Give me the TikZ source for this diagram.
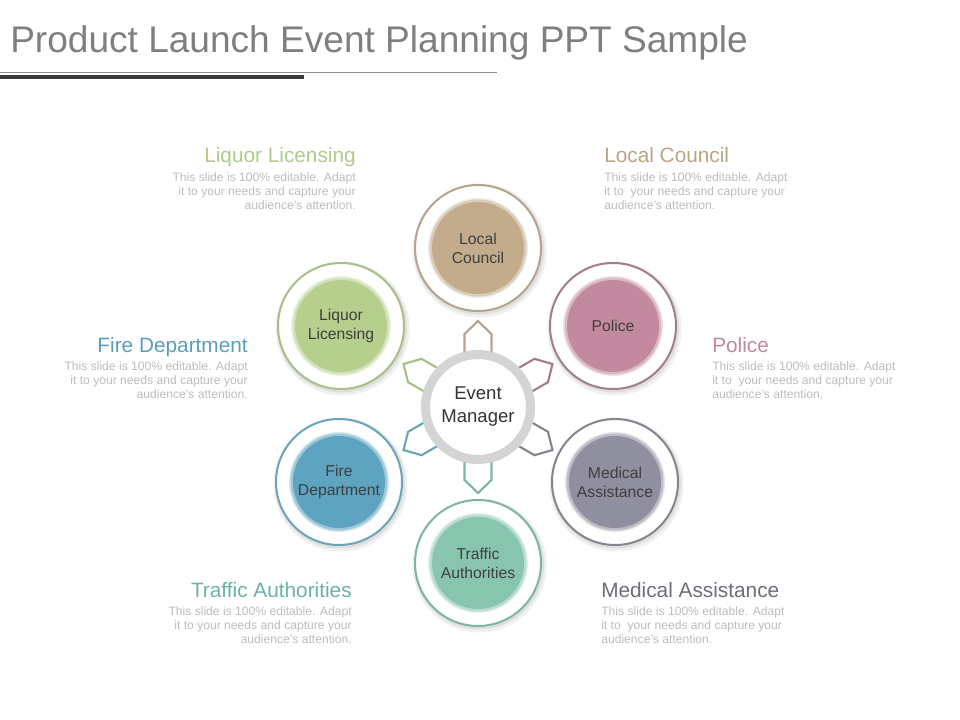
\documentclass[tikz,border=0pt]{standalone}
\usepackage{fontspec}
\setmainfont{Liberation Sans}
\usetikzlibrary{calc}
\definecolor{titlegray}{HTML}{7F7F7F}
\definecolor{linegray}{HTML}{8C8C8C}
\definecolor{linedark}{HTML}{3A3A3A}
\definecolor{bodygray}{HTML}{BDBDBD}
\definecolor{labelgray}{HTML}{3F3F3F}
\definecolor{hubgray}{HTML}{D4D4D4}
\definecolor{lcfill}{HTML}{C2AC8C}\definecolor{lcring}{HTML}{B4A48C}\definecolor{lchead}{HTML}{B9A586}
\definecolor{polfill}{HTML}{C38A9F}\definecolor{polring}{HTML}{A47D8D}\definecolor{polhead}{HTML}{C08A9E}
\definecolor{medfill}{HTML}{908FA0}\definecolor{medring}{HTML}{85848F}\definecolor{medhead}{HTML}{6E6E78}
\definecolor{trafill}{HTML}{88C5AF}\definecolor{traring}{HTML}{7FB4A8}\definecolor{trahead}{HTML}{6BB2A6}
\definecolor{firefill}{HTML}{5EA3C0}\definecolor{firering}{HTML}{6AA5B8}\definecolor{firehead}{HTML}{5B9EBB}
\definecolor{liqfill}{HTML}{B6CF8D}\definecolor{liqring}{HTML}{A9BF86}\definecolor{liqhead}{HTML}{B3C98C}
\tikzset{
  headtext/.style={inner sep=0pt, font=\fontsize{15.6}{18}\selectfont},
  bodytext/.style={inner sep=0pt, text=bodygray, font=\fontsize{9.1}{10.5}\selectfont},
  satlabel/.style={circle, inner sep=0pt, minimum size=69pt, align=center, text=labelgray, font=\fontsize{11.8}{14.25}\selectfont},
}
\begin{document}
\begin{tikzpicture}[x=0.75pt,y=-0.75pt]
\useasboundingbox (0,0) rectangle (960,720);
\fill[white] (0,0) rectangle (960,720);
% title
\node[anchor=base west, inner sep=0pt, text=titlegray, font=\fontsize{27.8}{30}\selectfont] (title) at (10,53) {Product Launch Event Planning PPT Sample};
\fill[linegray] (0,71.8) rectangle (497,73.4);
\fill[linedark] (0,75.5) rectangle (304,79.5);
% satellites
\foreach \nm/\x/\y/\fc/\rc/\lab in {
  lc/478/248/lcfill/lcring/{Local\\Council},
  pol/613/326/polfill/polring/{Police},
  med/615/482/medfill/medring/{Medical\\Assistance},
  tra/478/563/trafill/traring/{Traffic\\Authorities},
  fire/339/482/firefill/firering/{Fire\\Department},
  liq/341/326/liqfill/liqring/{Liquor\\Licensing}}{
  \fill[black, opacity=0.06] (\x+1.5,\y+2.5) circle (67);
  \fill[black, opacity=0.07] (\x+1,\y+1.5) circle (65);
  \filldraw[fill=white, draw=\rc, line width=1.5pt] (\x,\y) circle (63);
  \fill[\fc, opacity=0.25] (\x,\y) circle (50);
  \fill[\fc, opacity=0.45] (\x,\y) circle (48.5);
  \node[satlabel, fill=\fc] (\nm) at (\x,\y) {\lab};
}
% pentagons
\coordinate (hc) at (478,407);
\foreach \a/\rc in {-90/lcring, -30/polring, 30/medring, 90/traring, 150/firering, 210/liqring}{
  \draw[\rc, line width=1.6pt, line join=miter]
    ($(hc)+(\a:55)+(\a+90:13.5)$) -- ($(hc)+(\a:73)+(\a+90:13.5)$) -- ($(hc)+(\a:86)$)
    -- ($(hc)+(\a:73)+(\a-90:13.5)$) -- ($(hc)+(\a:55)+(\a-90:13.5)$);
}
% hub
\node[circle, draw=hubgray, line width=6.75pt, fill=white, minimum size=78.75pt, inner sep=0pt, align=center, text=black!80, font=\fontsize{13.9}{17.25}\selectfont] (hub) at (hc) {Event\\Manager};
% texts left
\node[headtext, anchor=base east, text=liqhead] (liqh) at (356,163) {Liquor Licensing};
\node[bodytext, anchor=base east, align=right] (liqb) at (356,209.5) {This slide is 100\% editable. Adapt\\it to your needs and capture your\\audience’s attention.};
\node[headtext, anchor=base east, text=firehead] (fireh) at (248,352) {Fire Department};
\node[bodytext, anchor=base east, align=right] (fireb) at (248,398.5) {This slide is 100\% editable. Adapt\\it to your needs and capture your\\audience’s attention.};
\node[headtext, anchor=base east, text=trahead] (trah) at (352,597) {Traffic Authorities};
\node[bodytext, anchor=base east, align=right] (trab) at (352,643.5) {This slide is 100\% editable. Adapt\\it to your needs and capture your\\audience’s attention.};
% texts right
\node[headtext, anchor=base west, text=lchead] (lch) at (604,163) {Local Council};
\node[bodytext, anchor=base west, align=left] (lcb) at (604,209.5) {This slide is 100\% editable. Adapt\\it to\ \ your needs and capture your\\audience’s attention.};
\node[headtext, anchor=base west, text=polhead] (polh) at (712,352) {Police};
\node[bodytext, anchor=base west, align=left] (polb) at (712,398.5) {This slide is 100\% editable. Adapt\\it to\ \ your needs and capture your\\audience’s attention.};
\node[headtext, anchor=base west, text=medhead] (medh) at (601,597) {Medical Assistance};
\node[bodytext, anchor=base west, align=left] (medb) at (601,643.5) {This slide is 100\% editable. Adapt\\it to\ \ your needs and capture your\\audience’s attention.};
\end{tikzpicture}
\end{document}
